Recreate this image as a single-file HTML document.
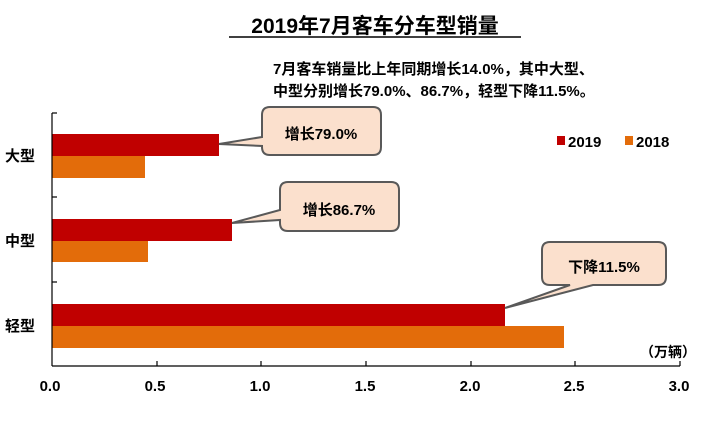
<!DOCTYPE html>
<html><head><meta charset="utf-8"><style>
body{margin:0;background:#fff}
svg text{font-family:"Liberation Sans","Noto Sans CJK SC",sans-serif;font-weight:bold;fill:#000}
</style></head><body>
<svg width="718" height="430" xmlns="http://www.w3.org/2000/svg">
<text x="375" y="33" font-size="21" text-anchor="middle">2019年7月客车分车型销量</text>
<line x1="229" y1="37" x2="521" y2="37" stroke="#000" stroke-width="1.5"/>
<text x="273" y="74" font-size="15">7月客车销量比上年同期增长14.0%，其中大型、</text>
<text x="273" y="96" font-size="15">中型分别增长79.0%、86.7%，轻型下降11.5%。</text>
<!-- bars -->
<rect x="52" y="134" width="167" height="22" fill="#c00000"/>
<rect x="52" y="156" width="93" height="22" fill="#e36c0a"/>
<rect x="52" y="219" width="180" height="22" fill="#c00000"/>
<rect x="52" y="241" width="96" height="21" fill="#e36c0a"/>
<rect x="52" y="304" width="453" height="22" fill="#c00000"/>
<rect x="52" y="326" width="512" height="22" fill="#e36c0a"/>
<!-- axes -->
<g stroke="#000" stroke-width="1.2">
<line x1="52" y1="113" x2="52" y2="366"/>
<line x1="52" y1="366" x2="680" y2="366"/>
<line x1="52" y1="113" x2="57" y2="113"/>
<line x1="52" y1="197" x2="57" y2="197"/>
<line x1="52" y1="282" x2="57" y2="282"/>
<line x1="157" y1="361" x2="157" y2="366"/>
<line x1="261" y1="361" x2="261" y2="366"/>
<line x1="366" y1="361" x2="366" y2="366"/>
<line x1="471" y1="361" x2="471" y2="366"/>
<line x1="575" y1="361" x2="575" y2="366"/>
<line x1="680" y1="361" x2="680" y2="366"/>
</g>
<g font-size="15" text-anchor="middle">
<text x="50" y="391">0.0</text><text x="155" y="391">0.5</text><text x="260" y="391">1.0</text>
<text x="365" y="391">1.5</text><text x="470" y="391">2.0</text><text x="574" y="391">2.5</text><text x="679" y="391">3.0</text>
</g>
<g font-size="15"><text x="5" y="161">大型</text><text x="5" y="246">中型</text><text x="5" y="331">轻型</text></g>
<text x="640" y="357" font-size="14">（万辆）</text>
<!-- legend -->
<rect x="557" y="136" width="8" height="9" fill="#c00000"/><text x="568" y="147" font-size="15">2019</text>
<rect x="625" y="136" width="8" height="9" fill="#e36c0a"/><text x="636" y="147" font-size="15">2018</text>
<!-- callouts -->
<g fill="#fbe0cd" stroke="#595959" stroke-width="2">
<path d="M270,107 H373 Q381,107 381,115 V147 Q381,155 373,155 H270 Q262,155 262,147 V146 L219,144 L262,137 V115 Q262,107 270,107 Z"/>
<path d="M288,182 H391 Q399,182 399,190 V223 Q399,231 391,231 H288 Q280,231 280,223 V220 L232,223 L280,210 V190 Q280,182 288,182 Z"/>
<path d="M550,242 H658 Q666,242 666,250 V277 Q666,285 658,285 H593 L505,308 L570,285 H550 Q542,285 542,277 V250 Q542,242 550,242 Z"/>
</g>
<g font-size="15" text-anchor="middle">
<text x="321" y="139">增长79.0%</text>
<text x="339" y="215">增长86.7%</text>
<text x="604" y="272">下降11.5%</text>
</g>
</svg>
</body></html>
